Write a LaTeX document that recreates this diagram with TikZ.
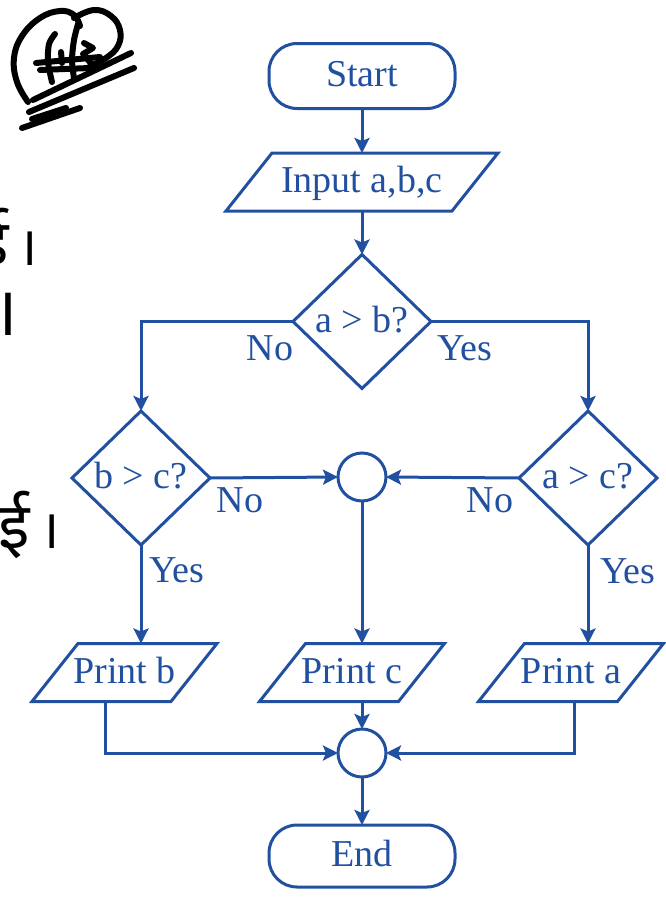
\documentclass[tikz,border=0pt]{standalone}
\usepackage{fontspec}
\setmainfont{Liberation Serif}
\newfontfamily\devfont[Script=Devanagari]{Noto Sans}
\usetikzlibrary{arrows.meta,shapes.geometric}
\definecolor{flow}{RGB}{33,80,160}

\begin{document}
\begin{tikzpicture}[x=1pt,y=-1pt,
  txt/.style={font=\fontsize{38}{41}\selectfont, text=flow,
    text height=27pt, text depth=6pt, inner sep=0pt, outer sep=0pt},
  terminal/.style={txt, draw=flow, line width=3pt, rounded corners=28pt,
    minimum width=186pt, minimum height=65pt},
  iobox/.style={txt, minimum height=58pt},
  decision/.style={txt, diamond, draw=flow, line width=3pt,
    minimum width=138pt, minimum height=134pt},
  junction/.style={circle, draw=flow, line width=3pt, minimum size=48pt,
    inner sep=0pt, outer sep=0pt},
  flowline/.style={draw=flow, line width=3pt},
  arrow/.style={flowline, -{Stealth[length=15pt, width=15pt, inset=3pt]}},
  tag/.style={txt},
  devletter/.style={font=\devfont\fontsize{64}{68}\selectfont, text=black,
    inner sep=0pt, anchor=base east},
  devstop/.style={font=\devfont\fontsize{54}{58}\selectfont, text=black,
    inner sep=0pt, anchor=base},
  sig/.style={draw=black, line width=6pt, line cap=round, line join=round},
]
\useasboundingbox (0,0) rectangle (666,902);

% scribbled initials in the top-left corner
\draw[sig] plot[smooth, tension=0.7] coordinates {(28,102) (17,82) (14,58) (22,36) (40,18) (60,11) (74,15) (80,26)};
\draw[sig] plot[smooth, tension=0.7] coordinates {(74,18) (94,10) (111,16) (120,30) (118,46) (106,58) (90,66)};
\draw[sig] plot[smooth] coordinates {(55,34) (49,44) (48,62) (52,82)};
\draw[sig] plot[smooth] coordinates {(78,24) (74,40) (72,60) (74,78)};
\draw[sig] (36,63) -- (100,57);
\draw[sig] (40,70) -- (90,68);
\draw[sig] (61,52) -- (62,63);
\draw[sig] (84,43) -- (93,48) -- (83,54) -- (95,68);
\draw[sig] (33,100) -- (131,53);
\draw[sig] (29,112) -- (134,68);
\draw[sig] (32,119) -- (66,108);
\draw[sig] (22,128) -- (80,108);

% Devanagari text running off the left edge
\node[devletter] (dv1) at (9,265) {ई};
\node[devstop] (dv1s) at (28,265) {।};
\node[devstop, font=\devfont\fontsize{68}{72}\selectfont] (dv2) at (5,335) {।};
\node[devletter] (dv3) at (30,548) {ई};
\node[devstop] (dv3s) at (50,548) {।};

% flowchart nodes
\node[terminal] (start) at (362,76) {Start};
\node[iobox, minimum width=226pt] (inp) at (362,182) {Input a,b,c};
\node[decision] (d1) at (362,321.5) {a > b?};
\node[decision] (d2) at (141,478) {b > c?};
\node[decision] (d3) at (588,478) {a > c?};
\node[junction] (c1) at (362,477) {};
\node[iobox, minimum width=139pt] (pb) at (124.5,672.5) {Print b};
\node[iobox, minimum width=139pt] (pc) at (352,672.5) {Print c};
\node[iobox, minimum width=139pt] (pa) at (571,672.5) {Print a};
\node[junction] (c2) at (362,753) {};
\node[terminal, minimum height=62pt] (end) at (362,856) {End};

% slanted input/output boxes
\foreach \n in {inp,pb,pc,pa}
  \draw[flowline, line join=miter]
    ([xshift=-23pt]\n.south west) -- ([xshift=-23pt]\n.south east)
    -- ([xshift=23pt]\n.north east) -- ([xshift=23pt]\n.north west) -- cycle;

% connectors
\draw[arrow] (start.south) -- (inp.north);
\draw[arrow] (inp.south) -- (d1.north);
\draw[arrow] (d1.west) -| (d2.north);
\draw[arrow] (d1.east) -| (d3.north);
\draw[arrow] (d2.east) -- (c1.west);
\draw[arrow] (d3.west) -- (c1.east);
\draw[arrow] (c1.south) -- (c1.south |- pc.north);
\draw[arrow] (d2.south) -- (d2.south |- pb.north);
\draw[arrow] (d3.south) -- (d3.south |- pa.north);
\draw[arrow] ([xshift=-19.5pt]pb.south) |- (c2.west);
\draw[arrow] ([xshift=3pt]pa.south) |- (c2.east);
\draw[arrow] (c2.north |- pc.south) -- (c2.north);
\draw[arrow] (c2.south) -- (end.north);

% branch labels
\node[tag] (no1) at (270,349.5) {No};
\node[tag] (yes1) at (465,349.5) {Yes};
\node[tag] (no2) at (240,502) {No};
\node[tag] (no3) at (490,502) {No};
\node[tag] (yes2) at (177,572) {Yes};
\node[tag] (yes3) at (628,573) {Yes};
\end{tikzpicture}
\end{document}
